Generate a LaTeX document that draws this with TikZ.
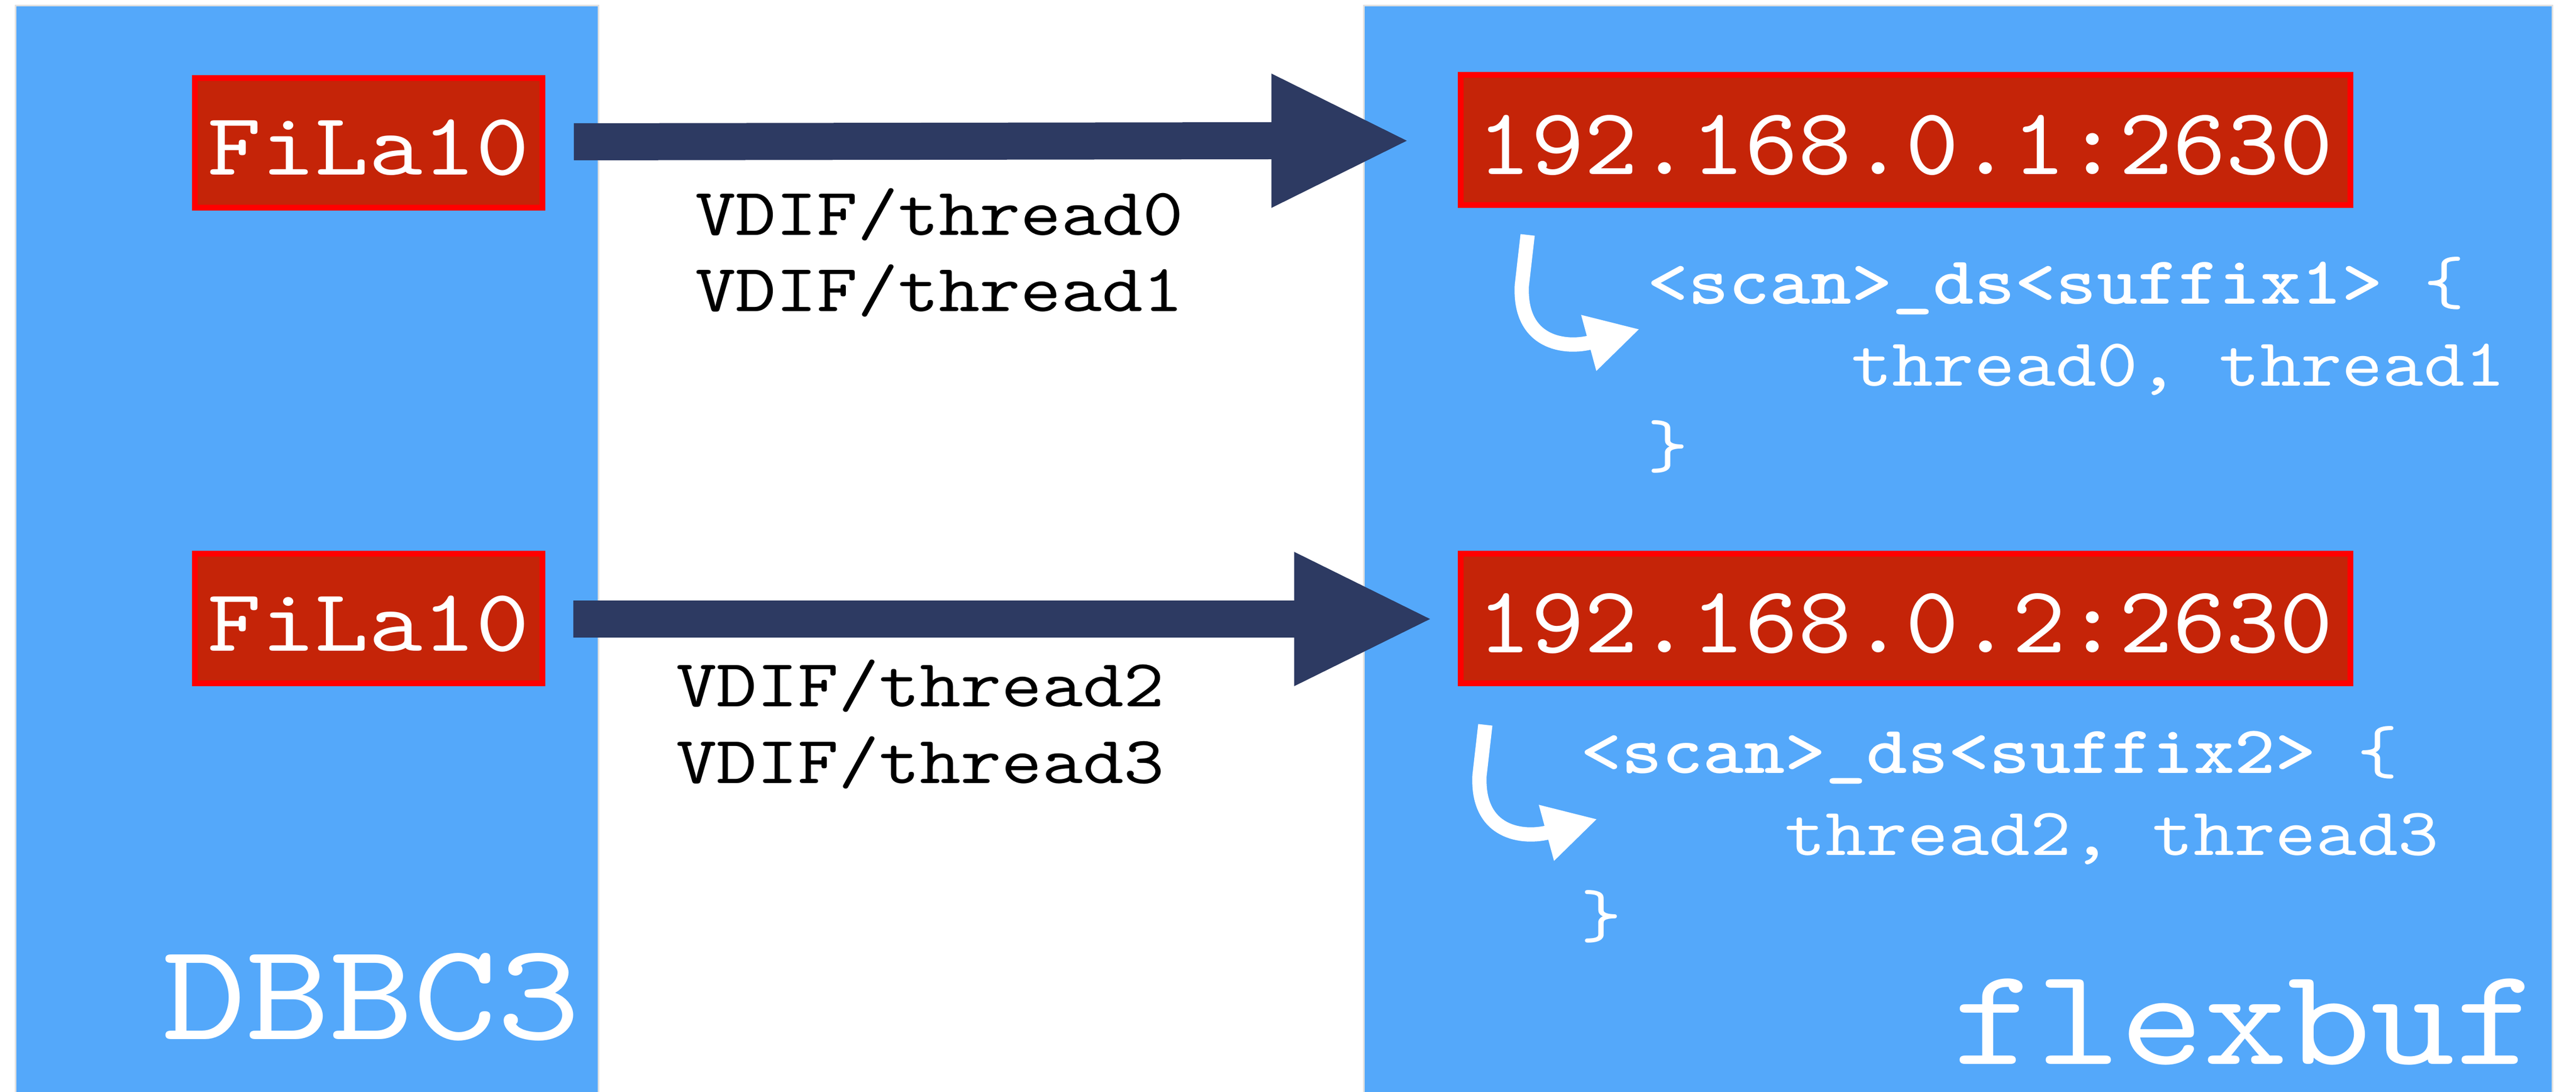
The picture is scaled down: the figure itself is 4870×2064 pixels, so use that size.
\documentclass[tikz,border=0pt]{standalone}
\usepackage{fontspec}
\usetikzlibrary{arrows.meta,calc}
\newfontfamily\cour{lmmono10-regular.otf}[FakeStretch=1.15]
\newfontfamily\courip{lmmono10-regular.otf}[FakeStretch=1.07]
\newfontfamily\courb{lmmonolt10-bold.otf}[FakeStretch=1.15]
\definecolor{panelblue}{RGB}{84,168,250}
\definecolor{boxred}{RGB}{197,36,8}
\definecolor{brightred}{RGB}{255,0,0}
\definecolor{navy}{RGB}{45,58,98}
\tikzset{
  panel/.style={fill=panelblue, draw=black!12, line width=0.3pt},
  redbox/.style={fill=boxred, draw=brightred, line width=1.1pt, inner sep=0pt,
    text=white, text height=12.2pt, text depth=0pt,
    font={\cour\fontsize{16.8pt}{18pt}\selectfont}},
  ipbox/.style={redbox, text height=12.9pt,
    font={\courip\fontsize{18pt}{19pt}\selectfont}},
  vdif/.style={anchor=base west, align=left, inner sep=0pt, text=black,
    font={\cour\fontsize{12.75pt}{14.5pt}\selectfont}},
  scanblk/.style={anchor=base west, align=left, inner sep=0pt, text=white,
    font={\cour\fontsize{12.8pt}{15.5pt}\selectfont}},
  bigname/.style={anchor=base west, inner sep=0pt, text=white,
    font={\cour\fontsize{26.2pt}{28pt}\selectfont}},
  blockarrow/.style={fill=navy},
  curvearrow/.style={draw=white, line width=2.7pt,
    -{Triangle[width=10.2pt,length=10pt]}},
}
\begin{document}
\begin{tikzpicture}[x=0.1pt,y=-0.1pt]
\useasboundingbox (0,0) rectangle (4870,2064);
\fill[white] (0,0) rectangle (4870,2064);
% panels
\path[panel] (29,11) rectangle (1131,2075);
\path[panel] (2578,11) rectangle (4825,2075);
% red boxes
\node[redbox, minimum width=65.7pt, minimum height=24.5pt] (fila1) at (697,270) {FiLa10};
\node[redbox, minimum width=65.7pt, minimum height=24.5pt] (fila2) at (697,1169) {FiLa10};
\node[ipbox, minimum width=168.2pt, minimum height=24.6pt] (ip1) at (3602,265) {192.168.0.1:2630};
\node[ipbox, minimum width=168.2pt, minimum height=24.6pt] (ip2) at (3602,1169) {192.168.0.2:2630};
% block arrows
\coordinate (a1s) at ($(fila1.east)+(54,-2)$);
\coordinate (a1e) at ($(ip1.west)+(-96,1)$);
\coordinate (a2s) at ($(fila2.east)+(53,1)$);
\coordinate (a2e) at ($(ip2.west)+(-52,1)$);
\fill[blockarrow] ([yshift=3.5pt]a1s) -- ([xshift=-25.6pt,yshift=3.5pt]a1e)
  -- ([xshift=-25.6pt,yshift=12.7pt]a1e) -- (a1e)
  -- ([xshift=-25.6pt,yshift=-12.7pt]a1e) -- ([xshift=-25.6pt,yshift=-3.5pt]a1e)
  -- ([yshift=-3.5pt]a1s) -- cycle;
\fill[blockarrow] ([yshift=3.5pt]a2s) -- ([xshift=-25.7pt,yshift=3.5pt]a2e)
  -- ([xshift=-25.7pt,yshift=12.7pt]a2e) -- (a2e)
  -- ([xshift=-25.7pt,yshift=-12.7pt]a2e) -- ([xshift=-25.7pt,yshift=-3.5pt]a2e)
  -- ([yshift=-3.5pt]a2s) -- cycle;
% labels on arrows (anchor = baseline of last line)
\node[vdif] (vdif1) at (1312,589) {VDIF/thread0\\VDIF/thread1};
\node[vdif] (vdif2) at (1276,1480) {VDIF/thread2\\VDIF/thread3};
% curved white arrows
\coordinate (c1s) at (2888,444);
\coordinate (c1e) at (3100,622);
\coordinate (c2s) at (2808,1370);
\coordinate (c2e) at (3020,1548);
\draw[curvearrow] (c1s) -- ++(-11,96) .. controls +(-5,110) and +(-140,38) .. (c1e);
\draw[curvearrow] (c2s) -- ++(-11,96) .. controls +(-5,110) and +(-140,38) .. (c2e);
% scan blocks (anchor = baseline of last line)
\node[scanblk] (scan1) at (3112,884) {{\courb <scan>\_ds<suffix1>} \{\\\phantom{xxxxx}thread0, thread1\\\}};
\node[scanblk] (scan2) at (2986,1771) {{\courb <scan>\_ds<suffix2>} \{\\\phantom{xxxxx}thread2, thread3\\\}};
% panel names
\node[bigname] (dbbc) at (305,1964) {DBBC3};
\node[bigname] (flex) at (3690,2011) {flexbuf};
\end{tikzpicture}
\end{document}
